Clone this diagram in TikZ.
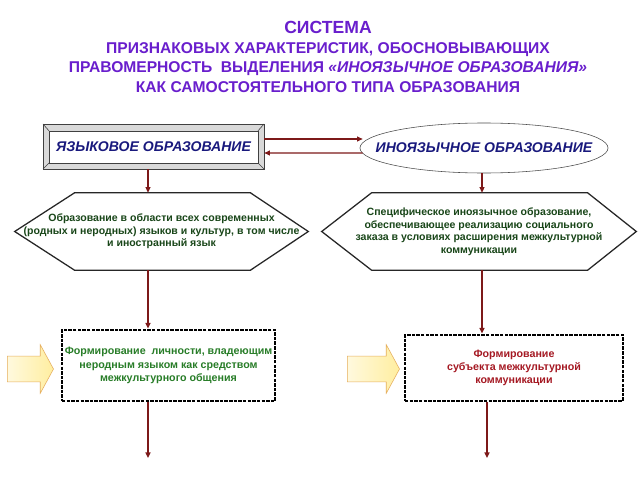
\documentclass[tikz,border=0pt]{standalone}
\usepackage{fontspec}
\setmainfont{Liberation Sans}
\usepackage{xcolor}
\usetikzlibrary{positioning, arrows.meta, shapes.geometric, shapes.arrows, calc}

\definecolor{titleviolet}{RGB}{105,30,205}
\definecolor{linkred}{RGB}{125,25,25}
\definecolor{headblue}{RGB}{25,25,125}
\definecolor{hexgreen}{RGB}{25,70,25}
\definecolor{goalgreen}{RGB}{40,125,40}
\definecolor{goalred}{RGB}{165,25,35}
\definecolor{pointerfill}{RGB}{255,238,160}
\definecolor{pointerline}{RGB}{230,175,95}

\begin{document}
\begin{tikzpicture}[
        x=0.025cm, y=-0.025cm,
        bevel/.style={draw=black!75, fill=black!15, minimum width=5.525cm, minimum height=1.125cm, inner sep=0pt,
            text=headblue, font=\fontsize{10}{11}\selectfont\bfseries\itshape,
            path picture={
                \draw[black!75, fill=white] ([shift={(0.15cm,-0.17cm)}]path picture bounding box.north west) rectangle ([shift={(-0.15cm,0.15cm)}]path picture bounding box.south east);
                \draw[black!75] (path picture bounding box.north west) -- ++(0.15cm,-0.17cm);
                \draw[black!75] (path picture bounding box.north east) -- ++(-0.15cm,-0.17cm);
                \draw[black!75] (path picture bounding box.south west) -- ++(0.15cm,0.15cm);
                \draw[black!75] (path picture bounding box.south east) -- ++(-0.15cm,0.15cm);
            }},
        oval/.style={ellipse, draw=black!70, fill=white, minimum width=6.2cm, minimum height=1.25cm,
            inner xsep=-1.2cm, inner ysep=0pt,
            text=headblue, font=\fontsize{10}{11}\selectfont\bfseries\itshape},
        hexa/.style={minimum height=1.925cm, inner sep=0pt, align=center, text=hexgreen,
            font=\fontsize{7.5}{8.9}\selectfont\bfseries},
        hexline/.style={draw=black!85, line width=0.9pt},
        goal/.style={draw=black, line width=2pt, dash pattern=on 2.5pt off 0.8pt, fill=white, inner sep=0pt,
            align=center, text=#1, font=\fontsize{7.6}{9.4}\selectfont\bfseries},
        pointer/.style={single arrow, draw=pointerline, left color=pointerfill!35, right color=pointerfill,
            inner xsep=0pt, inner ysep=0.3125cm, single arrow head extend=0.29cm, single arrow head indent=0pt,
            single arrow tip angle=123},
        link/.style={draw=linkred, line width=1pt, -{Triangle[length=4pt, width=3.5pt]}},
    ]
    \path[fill=white] (0,0) rectangle (640,480);

    % ---- Title ----
    \node[align=center, text=titleviolet, font=\fontsize{11.1}{13.9}\selectfont\bfseries] (title) at (328,57)
        {{\fontsize{12.5}{14}\selectfont СИСТЕМА}\\
         ПРИЗНАКОВЫХ ХАРАКТЕРИСТИК, ОБОСНОВЫВАЮЩИХ\\
         ПРАВОМЕРНОСТЬ\ \ ВЫДЕЛЕНИЯ {\itshape «ИНОЯЗЫЧНОЕ ОБРАЗОВАНИЯ»}\\
         КАК САМОСТОЯТЕЛЬНОГО ТИПА ОБРАЗОВАНИЯ};

    % ---- Top row ----
    \node[bevel] (lang) at (153.5,146.5) {ЯЗЫКОВОЕ ОБРАЗОВАНИЕ};
    \node[oval] (foreign) at (484,148) {ИНОЯЗЫЧНОЕ ОБРАЗОВАНИЕ};

    \draw[link] ($(lang.east)+(0,-7.5)$) -- ($(foreign.west)+(3,-9)$);
    \draw[link] ($(foreign.west)+(3,5)$) -- ($(lang.east)+(0,6.5)$);

    % ---- Hexagons ----
    \node[hexa, minimum width=7.325cm] (hexL) at (161.5,231.5)
        {Образование в области всех современных\\
         (родных и неродных) языков и культур, в том числе\\
         и иностранный язык};
    \draw[hexline] (hexL.west) -- ([xshift=1.5cm]hexL.north west) -- ([xshift=-1.45cm]hexL.north east)
        -- (hexL.east) -- ([xshift=-1.45cm]hexL.south east) -- ([xshift=1.5cm]hexL.south west) -- cycle;

    \node[hexa, minimum width=7.85cm] (hexR) at (479,231.5)
        {Специфическое иноязычное образование,\\
         обеспечивающее реализацию социального\\
         заказа в условиях расширения межкультурной\\
         коммуникации};
    \draw[hexline] (hexR.west) -- ([xshift=1.25cm]hexR.north west) -- ([xshift=-1.22cm]hexR.north east)
        -- (hexR.east) -- ([xshift=-1.22cm]hexR.south east) -- ([xshift=1.25cm]hexR.south west) -- cycle;

    % ---- Goals ----
    \node[goal=goalgreen, minimum width=5.325cm, minimum height=1.775cm] (goalL) at (168.5,365.5)
        {Формирование\ \ личности, владеющим\\
         неродным языком как средством\\
         межкультурного общения};
    \node[goal=goalred, minimum width=5.45cm, minimum height=1.65cm] (goalR) at (514,368)
        {Формирование\\
         субъекта межкультурной\\
         коммуникации};

    \node[pointer, minimum height=1.15cm] (ptrL) at (27,369) {};
    \node[pointer, minimum height=1.3cm] (ptrR) at (370,369) {};

    % ---- Columns ----
    \coordinate (colL) at (148,0);
    \coordinate (colR) at (482,0);
    \coordinate (endL) at (148,458);
    \coordinate (endR) at (487,458);

    \draw[link] (lang.south -| colL) -- (hexL.north -| colL);
    \draw[link] (hexL.south -| colL) -- (goalL.north -| colL);
    \draw[link] (goalL.south -| endL) -- (endL);

    \draw[link] (foreign.south -| colR) -- (hexR.north -| colR);
    \draw[link] (hexR.south -| colR) -- (goalR.north -| colR);
    \draw[link] (goalR.south -| endR) -- (endR);
\end{tikzpicture}
\end{document}
